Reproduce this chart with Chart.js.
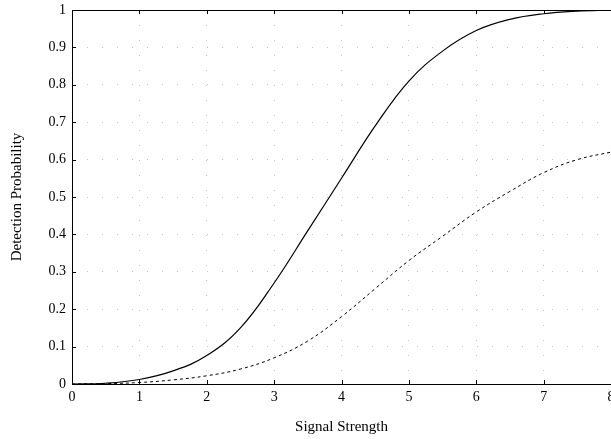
<!DOCTYPE html>
<html>
<head>
<meta charset="utf-8">
<script src="https://cdn.jsdelivr.net/npm/chart.js@4"></script>
<style>
  html, body { margin: 0; padding: 0; background: #fff; }
  #wrap { width: 611px; height: 439px; }
</style>
</head>
<body>
<div id="wrap"><canvas id="detChart" width="611" height="439"></canvas></div>
<script>
const signalStrength = [0, 0.5, 1, 1.5, 2, 2.5, 3, 3.5, 4, 4.5, 5, 5.5, 6, 6.5, 7, 7.5, 8];
const probSolid  = [0, 0.002, 0.012, 0.035, 0.076, 0.15, 0.27, 0.41, 0.55, 0.69, 0.81, 0.89, 0.945, 0.975, 0.99, 0.997, 1.0];
const probDashed = [0, 0.001, 0.004, 0.011, 0.022, 0.04, 0.07, 0.115, 0.18, 0.255, 0.33, 0.395, 0.46, 0.515, 0.565, 0.60, 0.62];
const yTicks = [0, 0.1, 0.2, 0.3, 0.4, 0.5, 0.6, 0.7, 0.8, 0.9, 1];

const toPoints = (xs, ys) => xs.map((x, i) => ({ x: x, y: ys[i] }));

const frame = {
    id: 'frame',
    afterDatasetsDraw(chart) {
        const a = chart.chartArea;
        const ctx = chart.ctx;
        ctx.save();
        ctx.strokeStyle = '#000';
        ctx.lineWidth = 1;
        ctx.strokeRect(a.left + 0.5, a.top + 0.5, a.right - a.left, a.bottom - a.top);
        // small inward tick marks
        const xs = chart.scales.x, ys = chart.scales.y;
        ctx.beginPath();
        for (let v = 0; v <= 8; v++) {
            const px = Math.round(xs.getPixelForValue(v)) + 0.5;
            ctx.moveTo(px, a.bottom); ctx.lineTo(px, a.bottom - 4);
            ctx.moveTo(px, a.top); ctx.lineTo(px, a.top + 4);
        }
        yTicks.forEach(v => {
            const py = Math.round(ys.getPixelForValue(v)) + 0.5;
            ctx.moveTo(a.left, py); ctx.lineTo(a.left + 4, py);
        });
        ctx.stroke();
        ctx.restore();
    }
};

const tickFont = { family: '"Liberation Serif", "DejaVu Serif", serif', size: 14 };
const titleFont = { family: '"Liberation Serif", "DejaVu Serif", serif', size: 15 };

new Chart(document.getElementById('detChart'), {
    type: 'line',
    data: {
        datasets: [{
            label: 'Solid',
            data: toPoints(signalStrength, probSolid),
            borderColor: '#000',
            borderWidth: 1.2,
            pointRadius: 0,
            tension: 0.4,
            fill: false
        }, {
            label: 'Dashed',
            data: toPoints(signalStrength, probDashed),
            borderColor: '#000',
            borderWidth: 1,
            borderDash: [3, 3],
            pointRadius: 0,
            tension: 0.4,
            fill: false
        }]
    },
    options: {
        responsive: false,
        animation: false,
        layout: { padding: { left: 0, right: 0, top: 10, bottom: 0 } },
        plugins: { legend: { display: false }, tooltip: { enabled: false } },
        scales: {
            x: {
                type: 'linear',
                min: 0,
                max: 8,
                afterFit: s => { s.height = 55; s.paddingRight = 0; s.paddingLeft = 0; },
                ticks: { stepSize: 1, color: '#000', font: tickFont, padding: 5, maxRotation: 0 },
                grid: { color: 'rgba(0,0,0,0.22)', drawTicks: false },
                border: { display: false, dash: [1, 14] },
                title: { display: true, text: 'Signal Strength', color: '#000', font: titleFont, padding: { top: 4, bottom: 3 } }
            },
            y: {
                min: 0,
                max: 1,
                afterFit: s => { s.width = 72; s.paddingTop = 0; s.paddingBottom = 0; },
                afterBuildTicks: s => { s.ticks = yTicks.map(v => ({ value: v })); },
                ticks: { color: '#000', font: tickFont, padding: 6, callback: v => String(v) },
                grid: { color: 'rgba(0,0,0,0.22)', drawTicks: false },
                border: { display: false, dash: [1, 14] },
                title: { display: true, text: 'Detection Probability', color: '#000', font: titleFont, padding: { top: 8, bottom: 4 } }
            }
        }
    },
    plugins: [frame]
});
</script>
</body>
</html>
